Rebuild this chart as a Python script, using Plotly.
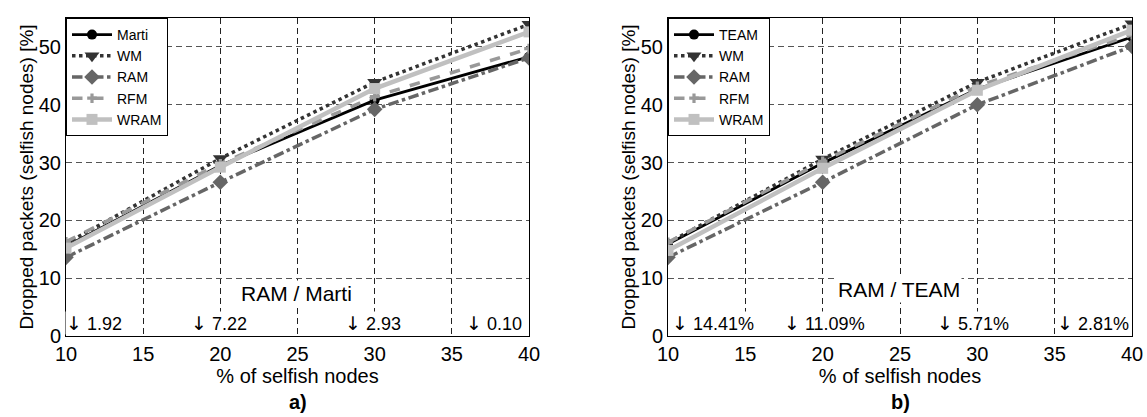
import plotly.graph_objects as go

x_vals = [10, 20, 30, 40]

# Panel a)
a_marti = [15.5, 29.5, 40.8, 48.3]
a_wm = [16.0, 30.7, 43.9, 53.9]
a_ram = [13.6, 26.6, 39.2, 48.1]
a_rfm = [16.3, 29.8, 41.4, 49.7]
a_wram = [15.2, 29.2, 42.8, 52.6]

# Panel b)
b_team = [15.9, 29.9, 42.7, 51.7]
b_wm = [16.1, 30.6, 43.9, 54.0]
b_ram = [13.6, 26.6, 40.0, 50.1]
b_rfm = [16.2, 30.2, 43.2, 52.1]
b_wram = [14.8, 29.0, 42.5, 52.9]

a_labels = ["1.92", "7.22", "2.93", "0.10"]
a_label_x = [11.8, 19.9, 29.9, 37.7]
b_labels = ["14.41%", "11.09%", "5.71%", "2.81%"]
b_label_x = [12.9, 20.1, 29.7, 37.5]

x_ticks = [10, 15, 20, 25, 30, 35, 40]
y_ticks = [0, 10, 20, 30, 40, 50]

FONT = "Arial, Liberation Sans, sans-serif"
ARROW = '<span style="font-family:DejaVu Sans;font-size:19px">\u2193</span> '

styles = [
    dict(color="#000000", width=2.8, dash="solid", symbol="circle", msize=10),
    dict(color="#333333", width=3.5, dash="dot", symbol="triangle-down", msize=13),
    dict(color="#666666", width=3.5, dash="dashdot", symbol="diamond", msize=12),
    dict(color="#999999", width=3.5, dash="dash", symbol="cross", msize=8),
    dict(color="#c0c0c0", width=4.5, dash="solid", symbol="square", msize=11),
]

fig = go.Figure()

def add_panel(names, series, xa, ya, legend):
    for name, vals, st in zip(names, series, styles):
        fig.add_trace(go.Scatter(
            x=x_vals, y=vals, name=name, mode="lines+markers",
            line=dict(color=st["color"], width=st["width"], dash=st["dash"]),
            marker=dict(symbol=st["symbol"], size=st["msize"], color=st["color"]),
            xaxis=xa, yaxis=ya, legend=legend,
        ))

add_panel(["Marti", "WM", "RAM", "RFM", "WRAM"],
          [a_marti, a_wm, a_ram, a_rfm, a_wram], "x", "y", "legend")
add_panel(["TEAM", "WM", "RAM", "RFM", "WRAM"],
          [b_team, b_wm, b_ram, b_rfm, b_wram], "x2", "y2", "legend2")

W, H = 1147, 417
ML, MT = 66, 18
MR = W - 1132
MB = H - 336
PW = W - ML - MR
PH = H - MT - MB
left_dom = [0, (529 - 66) / PW]
right_dom = [(668 - 66) / PW, 1]

axis_common = dict(
    showline=True, linecolor="black", linewidth=1, mirror=True,
    showgrid=True, griddash="6px,4px", gridwidth=1, automargin=False,
    zeroline=False, ticks="", tickfont=dict(size=20, color="black", family=FONT),
)

xa = dict(axis_common, range=[10, 40], tickvals=x_ticks, gridcolor="#222222",
          title=dict(text="% of selfish nodes", font=dict(size=20, color="black", family=FONT), standoff=2))
ya = dict(axis_common, range=[0, 55], tickvals=y_ticks, gridcolor="#555555",
          title=dict(text="Dropped packets (selfish nodes) [%]", font=dict(size=19, color="black", family=FONT), standoff=0))

legend_common = dict(
    bgcolor="white", bordercolor="black", borderwidth=1,
    font=dict(size=14, color="black", family=FONT),
    xanchor="left", yanchor="top", tracegroupgap=0, itemwidth=40,
)

fig.update_layout(
    width=W, height=H,
    margin=dict(l=ML, r=MR, t=MT, b=MB, autoexpand=False),
    paper_bgcolor="white", plot_bgcolor="white",
    font=dict(family=FONT, color="black"),
    xaxis=dict(xa, domain=left_dom, anchor="y"),
    yaxis=dict(ya, domain=[0, 1], anchor="x"),
    xaxis2=dict(xa, domain=right_dom, anchor="y2"),
    yaxis2=dict(ya, domain=[0, 1], anchor="x2"),
    legend=dict(legend_common, x=left_dom[0], y=1),
    legend2=dict(legend_common, x=right_dom[0], y=1),
    showlegend=True,
)

ann_font = dict(size=18, color="black", family=FONT)
annotations = []
for txt, xv in zip(a_labels, a_label_x):
    annotations.append(dict(x=xv, y=2.25, xref="x", yref="y", text=ARROW + txt, showarrow=False,
                            font=ann_font, bgcolor="white", yanchor="middle", borderpad=0))
for txt, xv in zip(b_labels, b_label_x):
    annotations.append(dict(x=xv, y=2.25, xref="x2", yref="y2", text=ARROW + txt, showarrow=False,
                            font=ann_font, bgcolor="white", yanchor="middle", borderpad=0))
annotations.append(dict(x=24.95, y=7.4, xref="x", yref="y", text="RAM / Marti", showarrow=False,
                        font=dict(size=21, color="black", family=FONT), bgcolor="white", yanchor="middle"))
annotations.append(dict(x=24.95, y=8.0, xref="x2", yref="y2", text="RAM / TEAM", showarrow=False,
                        font=dict(size=21, color="black", family=FONT), bgcolor="white", yanchor="middle"))
lab_y = (336 - 402) / PH
annotations.append(dict(x=sum(left_dom) / 2, y=lab_y, xref="paper", yref="paper", text="<b>a)</b>",
                        showarrow=False, xanchor="center", yanchor="middle",
                        font=dict(size=20, color="black", family=FONT)))
annotations.append(dict(x=sum(right_dom) / 2, y=lab_y, xref="paper", yref="paper", text="<b>b)</b>",
                        showarrow=False, xanchor="center", yanchor="middle",
                        font=dict(size=20, color="black", family=FONT)))
fig.update_layout(annotations=annotations)

fig.write_html(
    "out.html",
    config={"displayModeBar": False},
    post_script="document.body.style.margin='0';document.body.style.overflow='hidden';",
)
